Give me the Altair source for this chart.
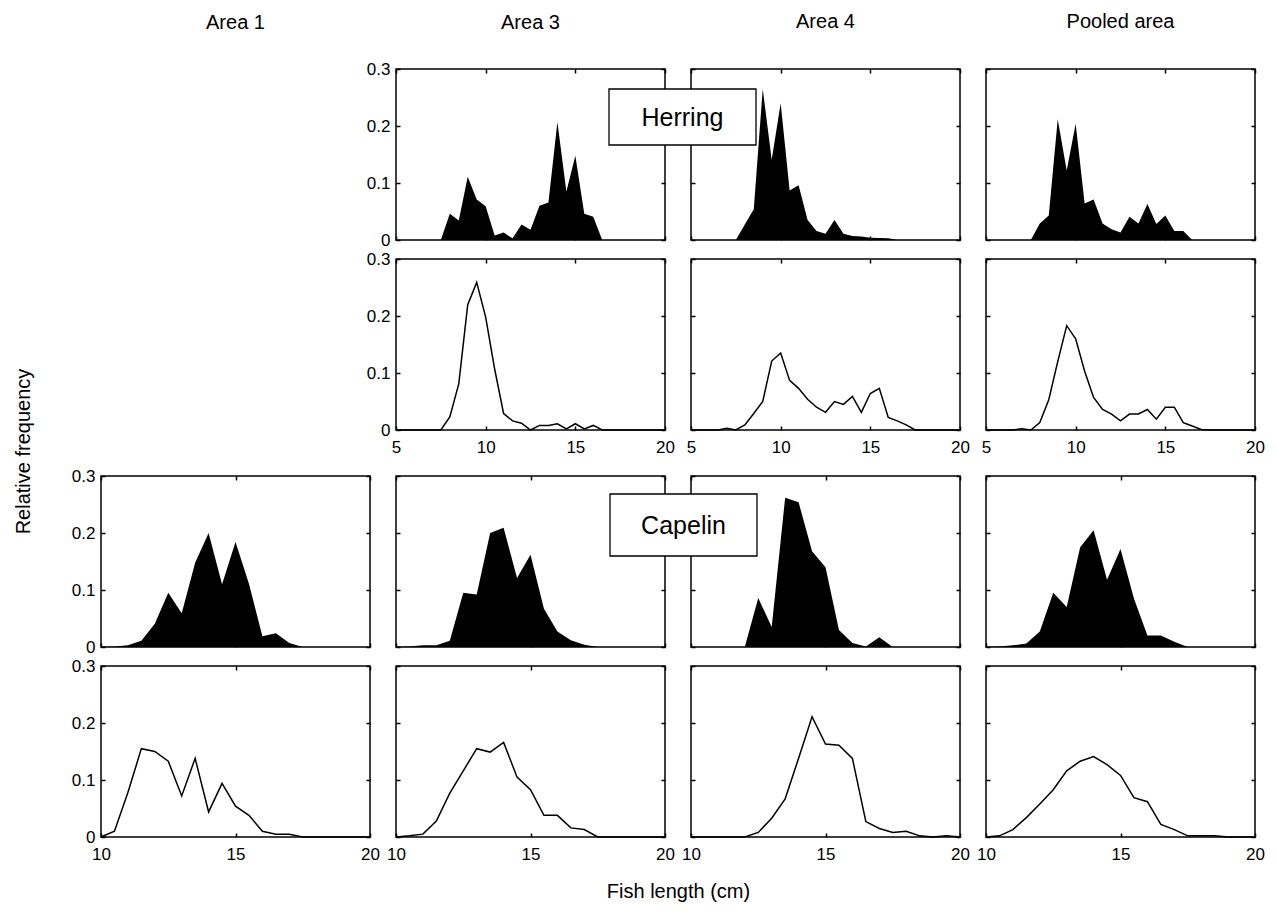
import altair as alt
import pandas as pd

FONT = "Liberation Sans"
W, H = 269, 171

# ---------------- data ----------------
herring_len = [5.0, 5.5, 6.0, 6.5, 7.0, 7.5, 8.0, 8.5, 9.0, 9.5, 10.0, 10.5, 11.0, 11.5,
               12.0, 12.5, 13.0, 13.5, 14.0, 14.5, 15.0, 15.5, 16.0, 16.5, 17.0, 17.5,
               18.0, 18.5, 19.0, 19.5, 20.0]
capelin_len = [10.0, 10.5, 11.0, 11.5, 12.0, 12.5, 13.0, 13.5, 14.0, 14.5, 15.0, 15.5,
               16.0, 16.5, 17.0, 17.5, 18.0, 18.5, 19.0, 19.5, 20.0]

# Herring, filled (upper row)
herring_fill_area3 = [0, 0, 0, 0, 0, 0, 0.046, 0.034, 0.111, 0.071, 0.059, 0.008, 0.013, 0.003,
                      0.027, 0.018, 0.060, 0.066, 0.207, 0.085, 0.148, 0.046, 0.041, 0,
                      0, 0, 0, 0, 0, 0, 0]
herring_fill_area4 = [0, 0, 0, 0, 0, 0, 0.027, 0.054, 0.265, 0.141, 0.240, 0.087, 0.096, 0.035,
                      0.016, 0.011, 0.035, 0.011, 0.007, 0.006, 0.004, 0.0035, 0.003, 0,
                      0, 0, 0, 0, 0, 0, 0]
herring_fill_pooled = [0, 0, 0, 0, 0, 0, 0.029, 0.043, 0.212, 0.122, 0.204, 0.064, 0.071, 0.029,
                       0.019, 0.013, 0.041, 0.029, 0.063, 0.028, 0.043, 0.016, 0.016, 0,
                       0, 0, 0, 0, 0, 0, 0]
# Herring, line (lower row)
herring_line_area3 = [0, 0, 0, 0, 0, 0, 0.023, 0.081, 0.220, 0.259, 0.198, 0.107, 0.029, 0.016,
                      0.012, 0.0, 0.008, 0.008, 0.011, 0.002, 0.011, 0.002, 0.008, 0,
                      0, 0, 0, 0, 0, 0, 0]
herring_line_area4 = [0, 0, 0, 0, 0.003, 0, 0.009, 0.029, 0.050, 0.121, 0.135, 0.087, 0.073, 0.054,
                      0.040, 0.031, 0.050, 0.045, 0.059, 0.031, 0.064, 0.073, 0.022, 0.016,
                      0.009, 0, 0, 0, 0, 0, 0]
herring_line_pooled = [0, 0, 0, 0, 0.002, 0, 0.013, 0.053, 0.120, 0.183, 0.160, 0.103, 0.057, 0.036,
                       0.028, 0.016, 0.028, 0.028, 0.036, 0.019, 0.040, 0.040, 0.013, 0.007,
                       0.001, 0, 0, 0, 0, 0, 0]

# Capelin, filled (upper row)
capelin_fill_area1 = [0, 0.001, 0.003, 0.011, 0.041, 0.095, 0.059, 0.148, 0.200, 0.110, 0.184,
                      0.111, 0.019, 0.024, 0.007, 0, 0, 0, 0, 0, 0]
capelin_fill_area3 = [0, 0.001, 0.003, 0.003, 0.011, 0.095, 0.092, 0.200, 0.209, 0.121, 0.162,
                      0.067, 0.027, 0.012, 0.004, 0, 0, 0, 0, 0, 0]
capelin_fill_area4 = [0, 0, 0, 0, 0, 0.086, 0.035, 0.262, 0.254, 0.168, 0.140,
                      0.030, 0.007, 0.001, 0.017, 0, 0, 0, 0, 0, 0]
capelin_fill_pooled = [0, 0.001, 0.003, 0.006, 0.027, 0.095, 0.070, 0.175, 0.205, 0.118, 0.172,
                       0.085, 0.020, 0.020, 0.009, 0, 0, 0, 0, 0, 0]
# Capelin, line (lower row)
capelin_line_area1 = [0, 0.010, 0.078, 0.155, 0.150, 0.133, 0.072, 0.138, 0.044, 0.094, 0.054,
                      0.038, 0.010, 0.005, 0.005, 0, 0, 0, 0, 0, 0]
capelin_line_area3 = [0, 0.002, 0.005, 0.028, 0.077, 0.116, 0.155, 0.149, 0.166, 0.105, 0.083,
                      0.038, 0.038, 0.016, 0.013, 0, 0, 0, 0, 0, 0]
capelin_line_area4 = [0, 0, 0, 0, 0, 0.008, 0.033, 0.067, 0.138, 0.211, 0.163,
                      0.161, 0.138, 0.027, 0.015, 0.008, 0.010, 0.002, 0, 0.002, 0]
capelin_line_pooled = [0, 0.002, 0.013, 0.034, 0.058, 0.083, 0.116, 0.133, 0.141, 0.127, 0.108,
                       0.069, 0.062, 0.022, 0.013, 0.002, 0.002, 0.002, 0, 0, 0]

column_titles = ["Area 1", "Area 3", "Area 4", "Pooled area"]
herring_ticks = [5, 10, 15, 20]
capelin_ticks = [10, 15, 20]
y_ticks = [0, 0.1, 0.2, 0.3]


def col_title(text, offset=36):
    return alt.TitleParams(text=text, offset=offset, fontSize=20, fontWeight="normal",
                           font=FONT, color="black", anchor="middle", frame="group")


def blank(h, title=None):
    c = alt.Chart(pd.DataFrame({"a": [0]})).mark_point(opacity=0).encode(
        x=alt.X("a:Q", axis=None), y=alt.Y("a:Q", axis=None))
    props = dict(width=W, height=h, view=alt.ViewBackground(stroke="transparent"))
    if title:
        props["title"] = col_title(title)
    return c.properties(**props)


def panel(lengths, values, dom, ticks, filled, ylabels, xlabels,
          title=None, title_offset=36, ytitle=None, xtitle=None, label=None, box=None):
    df = pd.DataFrame({"len": lengths, "freq": values})
    xscale = alt.Scale(domain=dom, nice=False, zero=False)
    yscale = alt.Scale(domain=[0, 0.3], nice=False)

    xax = dict(orient="bottom", values=ticks, tickSize=4, offset=-4, domain=False,
               grid=False, labels=xlabels, labelFlush=False, labelOverlap=False,
               labelPadding=9)
    if xtitle:
        xax.update(title=xtitle, titleX=282, titleY=58, titleAlign="center",
                   titleBaseline="middle", titleFontSize=20, titleFontWeight="normal")
    else:
        xax["title"] = None
    yax = dict(orient="left", values=y_ticks, format="~g", tickSize=4, offset=-4,
               domain=False, grid=False, labels=ylabels, labelPadding=6)
    if ytitle:
        yax.update(title=ytitle, titleX=-82, titleY=-25, titleAngle=270,
                   titleAlign="center", titleBaseline="middle", titleFontSize=20,
                   titleFontWeight="normal")
    else:
        yax["title"] = None

    base = alt.Chart(df)
    if filled:
        mark = base.mark_area(color="black", interpolate="linear")
    else:
        mark = base.mark_line(color="black", strokeWidth=1.5)
    main = mark.encode(
        x=alt.X("len:Q", scale=xscale, axis=alt.Axis(**xax)),
        y=alt.Y("freq:Q", scale=yscale, axis=alt.Axis(**yax)),
    )
    frame_ticks = base.mark_line(strokeOpacity=0).encode(
        x=alt.X("len:Q", scale=xscale,
                axis=alt.Axis(orient="top", values=ticks, tickSize=4, offset=-4,
                              domain=False, grid=False, labels=False, title=None)),
        y=alt.Y("freq:Q", scale=yscale,
                axis=alt.Axis(orient="right", values=y_ticks, tickSize=4, offset=-4,
                              domain=False, grid=False, labels=False, title=None)),
    )
    layers = [main, frame_ticks]
    if label:
        bdf = pd.DataFrame({"label": [label]})
        x1, x2, y1, y2 = box
        rect = alt.Chart(bdf).mark_rect(fill="white", stroke="black", strokeWidth=1.3).encode(
            x=alt.value(x1), x2=alt.value(x2), y=alt.value(y1), y2=alt.value(y2))
        txt = alt.Chart(bdf).mark_text(fontSize=25, font=FONT, color="black").encode(
            x=alt.value((x1 + x2) / 2), y=alt.value((y1 + y2) / 2 + 1), text="label:N")
        layers += [rect, txt]
    ch = alt.layer(*layers).resolve_axis(x="independent", y="independent")
    props = dict(width=W, height=H)
    if title:
        props["title"] = col_title(title, title_offset)
    return ch.properties(**props)


hd = [5, 20]
cd = [10, 20]
cells = [
    # row 1: herring filled
    blank(H, column_titles[0]),
    panel(herring_len, herring_fill_area3, hd, herring_ticks, True, True, False,
          title=column_titles[1], title_offset=27),
    panel(herring_len, herring_fill_area4, hd, herring_ticks, True, False, False, title=column_titles[2],
          label="Herring", box=(-82, 65, 20, 76)),
    panel(herring_len, herring_fill_pooled, hd, herring_ticks, True, False, False, title=column_titles[3]),
    # row 2: herring line
    blank(H),
    panel(herring_len, herring_line_area3, hd, herring_ticks, False, True, True),
    panel(herring_len, herring_line_area4, hd, herring_ticks, False, False, True),
    panel(herring_len, herring_line_pooled, hd, herring_ticks, False, False, True),
    # spacer row
    blank(8), blank(8), blank(8), blank(8),
    # row 3: capelin filled
    panel(capelin_len, capelin_fill_area1, cd, capelin_ticks, True, True, False, ytitle="Relative frequency"),
    panel(capelin_len, capelin_fill_area3, cd, capelin_ticks, True, False, False),
    panel(capelin_len, capelin_fill_area4, cd, capelin_ticks, True, False, False,
          label="Capelin", box=(-81, 66, 18, 80)),
    panel(capelin_len, capelin_fill_pooled, cd, capelin_ticks, True, False, False),
    # row 4: capelin line
    panel(capelin_len, capelin_line_area1, cd, capelin_ticks, False, True, True),
    panel(capelin_len, capelin_line_area3, cd, capelin_ticks, False, False, True, xtitle="Fish length (cm)"),
    panel(capelin_len, capelin_line_area4, cd, capelin_ticks, False, False, True),
    panel(capelin_len, capelin_line_pooled, cd, capelin_ticks, False, False, True),
]

chart = alt.concat(*cells, columns=4, spacing=alt.RowColnumber(row=19, column=26)).properties(
    bounds="flush", background="white",
    padding={"left": 4, "top": 3, "right": 0, "bottom": 0}
).configure_view(
    stroke="black", strokeWidth=1.5
).configure_axis(
    labelFont=FONT, labelFontSize=17, labelColor="black", tickColor="black", tickWidth=1.5,
    titleFont=FONT, titleColor="black"
)

chart.save("out.html", embed_options={"renderer": "svg", "actions": False})
